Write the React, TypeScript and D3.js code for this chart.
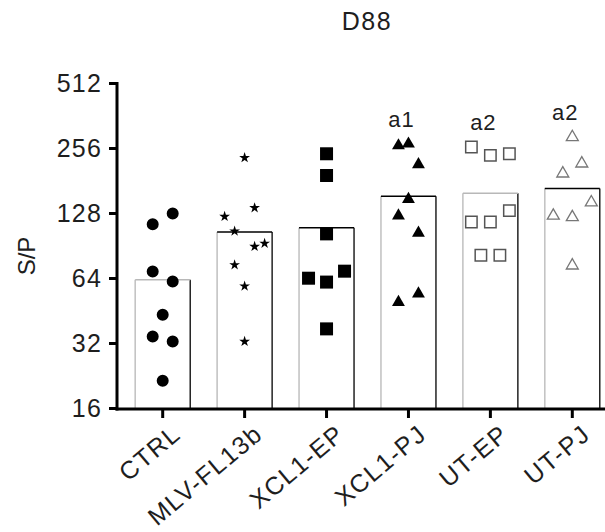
import React from "react";
import * as d3 from "d3";

const categories = ["CTRL", "MLV-FL13b", "XCL1-EP", "XCL1-PJ", "UT-EP", "UT-PJ"];
const yTicks = [16, 32, 64, 128, 256, 512];
const annotations = ["", "", "", "a1", "a2", "a2"];

const ctrlValues = [128, 114, 69, 62, 43.5, 34.5, 32.7, 21.5];
const ctrlCols = [1, -1, -1, 1, 0, -1, 1, 0];
const mlvValues = [232, 136, 124, 106, 90, 93, 74, 59, 32.7];
const mlvCols = [0, 1, -2, -1, 1, 2, -1, 0, 0];
const xclEpValues = [242, 192, 103, 64.2, 61.6, 69.2, 37.4];
const xclEpCols = [0, 0, 0, -1, 0, 1, 0];
const xclPjValues = [264, 269, 216, 149, 125, 104, 54.4, 49.7];
const xclPjCols = [-1, 0, 1, 0, -1, 1, 1, -1];
const utEpValues = [260, 238, 242, 117, 117, 132, 82, 82];
const utEpCols = [-2, 0, 2, -2, 0, 2, -1, 1];
const utPjValues = [289, 218, 196, 144, 125, 123, 73.5];
const utPjCols = [0, 1, -1, 2, -2, 0, 0];

const groupValues = [ctrlValues, mlvValues, xclEpValues, xclPjValues, utEpValues, utPjValues];
const groupCols = [ctrlCols, mlvCols, xclEpCols, xclPjCols, utEpCols, utPjCols];

// styles per group
const markerStyles = [
  { type: d3.symbolCircle, size: 113, fill: "#000", stroke: "none", sw: 0, spacing: 10, topGray: true },
  { type: d3.symbolStar, size: 36, fill: "#000", stroke: "none", sw: 0, spacing: 10, topGray: false },
  { type: d3.symbolSquare, size: 169, fill: "#000", stroke: "none", sw: 0, spacing: 18, topGray: false },
  { type: d3.symbolTriangle, size: 72, fill: "#000", stroke: "none", sw: 0, spacing: 10, topGray: false },
  { type: d3.symbolSquare, size: 130, fill: "#fff", stroke: "#555", sw: 1.5, spacing: 9.5, topGray: true },
  { type: d3.symbolTriangle, size: 62, fill: "#fff", stroke: "#777", sw: 1.3, spacing: 9.5, topGray: false },
];

const W = 605;
const H = 532;
const FONT = "'Liberation Sans', Arial, Helvetica, sans-serif";
const TXT = "#1e1e1e";

export default function App() {
  const axisX = 117;
  const axisY = 409;
  const y = d3.scaleLog().base(2).domain([16, 512]).range([408.5, 83.5]);
  const x = d3.scalePoint<string>().domain(categories).range([162.7, 572.3]);
  const barW = 55;
  const means = groupValues.map((v) => d3.mean(v) as number);

  return (
    <svg
      width={W}
      height={H}
      style={{ position: "absolute", left: 0, top: 0, background: "#fff" }}
      fontFamily={FONT}
    >
      <text x={367} y={30} fontSize={25} letterSpacing={1.5} textAnchor="middle" fill={TXT}>
        D88
      </text>
      <text
        transform={`translate(35, 256) rotate(-90)`}
        fontSize={24}
        textAnchor="middle"
        fill={TXT}
      >
        S/P
      </text>

      {/* bars */}
      {categories.map((c, i) => {
        const cx = x(c) as number;
        const x0 = cx - barW / 2;
        const x1 = cx + barW / 2;
        const yt = y(means[i]);
        const topColor = markerStyles[i].topGray ? "#b8b8b8" : "#000";
        return (
          <g key={c}>
            <rect x={x0} y={yt} width={barW} height={axisY - yt} fill="#fff" />
            <line x1={x0} x2={x0} y1={yt} y2={axisY} stroke="#c4c4c4" strokeWidth={1.6} />
            <line x1={x1} x2={x1} y1={yt} y2={axisY} stroke="#000" strokeWidth={1.3} />
            <line x1={x0} x2={x1} y1={yt} y2={yt} stroke={topColor} strokeWidth={1.5} />
          </g>
        );
      })}

      {/* points */}
      {categories.map((c, i) => {
        const cx = x(c) as number;
        const st = markerStyles[i];
        const path = d3.symbol().type(st.type).size(st.size)() as string;
        return (
          <g key={c}>
            {groupValues[i].map((v, j) => (
              <path
                key={j}
                d={path}
                transform={`translate(${cx + groupCols[i][j] * st.spacing}, ${y(v)})`}
                fill={st.fill}
                stroke={st.stroke}
                strokeWidth={st.sw}
              />
            ))}
          </g>
        );
      })}

      {/* annotations */}
      {categories.map((c, i) =>
        annotations[i] ? (
          <text
            key={c}
            x={(x(c) as number) - 7}
            y={y(d3.max(groupValues[i]) as number) - 17}
            fontSize={22}
            letterSpacing={1}
            textAnchor="middle"
            fill={TXT}
          >
            {annotations[i]}
          </text>
        ) : null
      )}

      {/* y axis */}
      <line x1={axisX} x2={axisX} y1={y(512) - 1.5} y2={axisY + 1.5} stroke="#000" strokeWidth={3} />
      {yTicks.map((t) => (
        <g key={t}>
          <line x1={axisX - 8} x2={axisX} y1={y(t)} y2={y(t)} stroke="#000" strokeWidth={3} />
          <text
            x={axisX - 15}
            y={y(t)}
            dy="0.35em"
            fontSize={25}
            letterSpacing={1.2}
            textAnchor="end"
            fill={TXT}
          >
            {t}
          </text>
        </g>
      ))}

      {/* x axis */}
      <line x1={axisX - 1.5} x2={W} y1={axisY} y2={axisY} stroke="#000" strokeWidth={3} />
      {categories.map((c) => {
        const cx = x(c) as number;
        return (
          <g key={c}>
            <line x1={cx} x2={cx} y1={axisY} y2={axisY + 9} stroke="#000" strokeWidth={3} />
            <text
              transform={`translate(${cx + 14}, 430) rotate(-40)`}
              fontSize={25}
              letterSpacing={1.4}
              textAnchor="end"
              dy="0.35em"
              fill={TXT}
            >
              {c}
            </text>
          </g>
        );
      })}
    </svg>
  );
}
